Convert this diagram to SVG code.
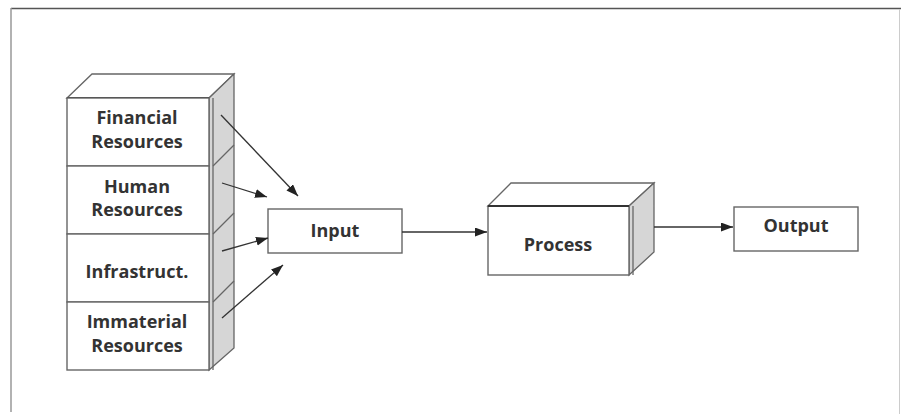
<svg xmlns="http://www.w3.org/2000/svg" width="901" height="414" viewBox="0 0 901 414">
<style>
.box{fill:#fff;stroke:#666;stroke-width:1.4}
.top{fill:#fff;stroke:#666;stroke-width:1.3}
.side{fill:#d6d6d6;stroke:#666;stroke-width:1.3}
.sep{fill:none;stroke:#666;stroke-width:1.3}
.t{font-family:"Open Sans","Liberation Sans",sans-serif;font-weight:bold;font-size:18px;fill:#333;text-anchor:middle}
.c{fill:none;stroke:#333;stroke-width:1.3}
</style>
<defs>
<marker id="ah" markerUnits="userSpaceOnUse" markerWidth="13" markerHeight="10" refX="12" refY="4.5" orient="auto">
<path d="M0,0 L12,4.5 L0,9 z" fill="#222"/>
</marker>
</defs>
<rect width="901" height="414" fill="#fff"/>
<g id="frame">
<line x1="11" y1="8.5" x2="901" y2="8.5" stroke="#555" stroke-width="1.5"/>
<line x1="11" y1="8" x2="11" y2="412" stroke="#999" stroke-width="1.5"/>
<line x1="899.5" y1="9" x2="899.5" y2="414" stroke="#ccc" stroke-width="1"/>
</g>
<g id="stack">
<polygon class="top" points="67,98 92,74 234,74 209,98"/>
<polygon class="side" points="209,98 234,74 234,348 209,370"/>
<line class="sep" x1="213" y1="98" x2="213" y2="370"/>
<line class="sep" x1="213" y1="166" x2="234" y2="145"/>
<line class="sep" x1="213" y1="234" x2="234" y2="213"/>
<line class="sep" x1="213" y1="302" x2="234" y2="281"/>
<line x1="67" y1="98" x2="209" y2="98" stroke="#333" stroke-width="1.8"/>
</g>
<g id="financial">
<rect class="box" x="67" y="98" width="142" height="68"/>
<text class="t" x="137" y="124">Financial</text>
<text class="t" x="137" y="148">Resources</text>
</g>
<g id="human">
<rect class="box" x="67" y="166" width="142" height="68"/>
<text class="t" x="137" y="193">Human</text>
<text class="t" x="137" y="216">Resources</text>
</g>
<g id="infrastruct">
<rect class="box" x="67" y="234" width="142" height="68"/>
<text class="t" x="137" y="278">Infrastruct.</text>
</g>
<g id="immaterial">
<rect class="box" x="67" y="302" width="142" height="68"/>
<text class="t" x="137" y="328">Immaterial</text>
<text class="t" x="137" y="352">Resources</text>
</g>
<g id="input">
<rect class="box" x="268" y="209" width="134" height="44"/>
<text class="t" x="335" y="237">Input</text>
</g>
<g id="process">
<polygon class="top" points="488,206 511,183 654,183 629,206"/>
<polygon class="side" points="629,206 654,183 654,252 629,275"/>
<line class="sep" x1="633" y1="206" x2="633" y2="275"/>
<rect class="box" x="488" y="206" width="141" height="69"/>
<line x1="488" y1="206" x2="629" y2="206" stroke="#333" stroke-width="1.8"/>
<text class="t" x="558" y="251">Process</text>
</g>
<g id="output">
<rect class="box" x="734" y="207" width="124" height="44"/>
<text class="t" x="796" y="232">Output</text>
</g>
<g id="connectors">
<line class="c" x1="221" y1="115" x2="298" y2="196" marker-end="url(#ah)"/>
<line class="c" x1="222" y1="183" x2="267" y2="197" marker-end="url(#ah)"/>
<line class="c" x1="222" y1="251" x2="268" y2="238" marker-end="url(#ah)"/>
<line class="c" x1="222" y1="318" x2="283" y2="265" marker-end="url(#ah)"/>
<line class="c" x1="402" y1="232" x2="487" y2="232" marker-end="url(#ah)"/>
<line class="c" x1="654" y1="227" x2="733" y2="227" marker-end="url(#ah)"/>
</g>
</svg>
